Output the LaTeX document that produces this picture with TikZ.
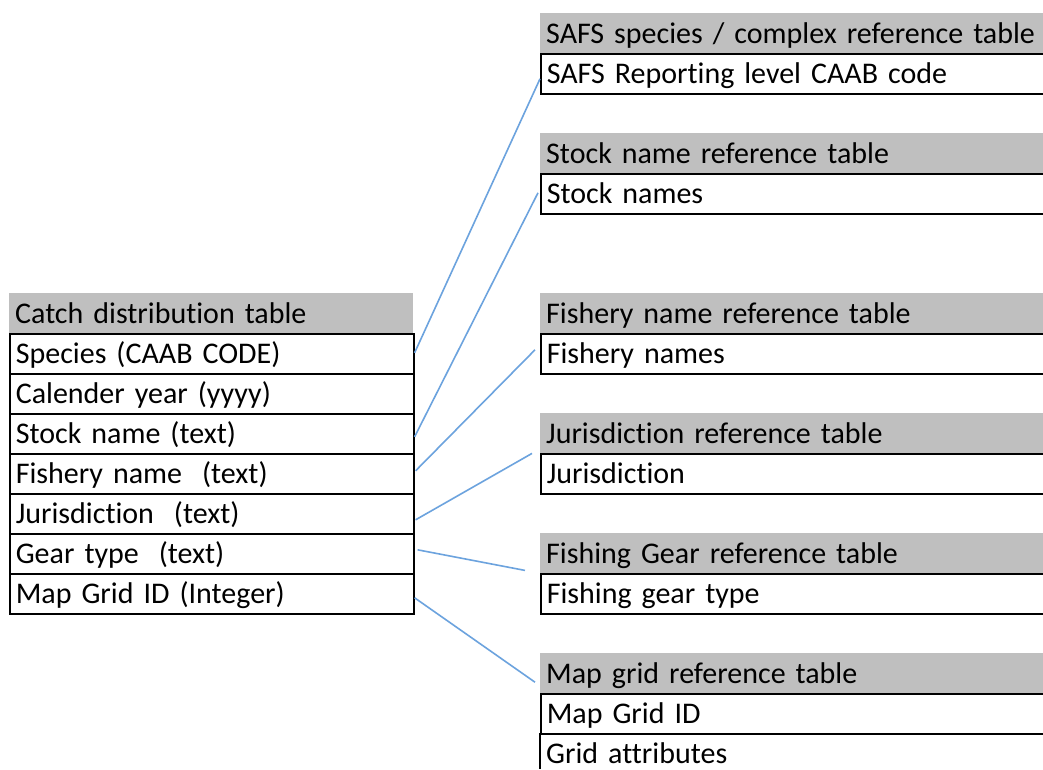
\documentclass[tikz,border=0pt]{standalone}
\usepackage{fontspec}
\setmainfont{Carlito}[Ligatures={NoCommon}]
\usetikzlibrary{calc}
\definecolor{headgray}{RGB}{191,191,191}
\definecolor{linkblue}{RGB}{108,163,222}
\begin{document}
\begin{tikzpicture}[x=1pt,y=-1pt,
  txt/.style={anchor=north west, inner xsep=6pt, inner ysep=0pt,
    text height=30pt, text depth=10pt, align=left,
    font=\fontsize{30}{36}\selectfont},
  headL/.style={txt, fill=headgray, text width=392pt},
  cellL/.style={txt, draw=black, line width=1.6pt, fill=white, text width=392pt},
  headR/.style={txt, fill=headgray, text width=508pt},
  cellR/.style={txt, draw=black, line width=1.6pt, fill=white, text width=508pt},
  rule/.style={draw=black, line width=1.6pt},
  link/.style={draw=linkblue, line width=1.6pt}]
\useasboundingbox[fill=white] (0,0) rectangle (1043,769);
\begin{scope}
\clip (0,0) rectangle (1043,769);

% main table
\node[headL] (cdt) at (9,293) {Catch distribution table};
\node[cellL] (species) at (9,333) {Species (CAAB CODE)};
\node[cellL] (year)    at (9,373) {Calender year (yyyy)};
\node[cellL] (stock)   at (9,413) {Stock name (text)};
\node[cellL] (fishery) at (9,453) {Fishery name\ \ (text)};
\node[cellL] (jur)     at (9,493) {Jurisdiction\ \ (text)};
\node[cellL] (gear)    at (9,533) {Gear type\ \ (text)};
\node[cellL] (grid)    at (9,573) {Map Grid ID (Integer)};

% reference tables
\node[headR] (safsH) at (540,13) {SAFS species / complex reference table};
\node[cellR] (safs)  at (540,53) {SAFS Reporting level CAAB code};

\node[headR] (stockH) at (540,133) {Stock name reference table};
\node[cellR] (stockR) at (540,173) {Stock names};

\node[headR] (fishH) at (540,293) {Fishery name reference table};
\node[cellR] (fishR) at (540,333) {Fishery names};

\node[headR] (jurH) at (540,413) {Jurisdiction reference table};
\node[cellR] (jurR) at (540,453) {Jurisdiction};

\node[headR] (gearH) at (540,533) {Fishing Gear reference table};
\node[cellR] (gearR) at (540,573) {Fishing gear type};

\node[headR] (mapH)  at (540,653) {Map grid reference table};
\node[cellR] (mapR1) at (540,693) {Map Grid ID};
% last row runs off the lower edge: only its left side shows
\node[txt, text width=508pt, text depth=6pt] (mapR2) at (540,733) {Grid attributes};
\draw[rule] (mapR2.north west) -- (mapR2.south west);

% links between the tables
\draw[link] ($(species.east)+(0,-1)$) -- ($(safs.west)+(0,5)$);
\draw[link] ($(stock.east)+(0,3)$) -- ($(stockR.west)+(-2,-1)$);
\draw[link] ($(fishery.east)+(1,-3)$) -- ($(fishR.west)+(-5,-4)$);
\draw[link] ($(jur.east)+(1,6)$) -- ($(jurH.south west)+(-8,0)$);
\draw[link] ($(gear.east)+(3,-4)$) -- ($(gearH.south west)+(-15,-3)$);
\draw[link] ($(grid.east)+(0,4)$) -- ($(mapH.west)+(-5,9)$);
\end{scope}
\end{tikzpicture}
\end{document}
